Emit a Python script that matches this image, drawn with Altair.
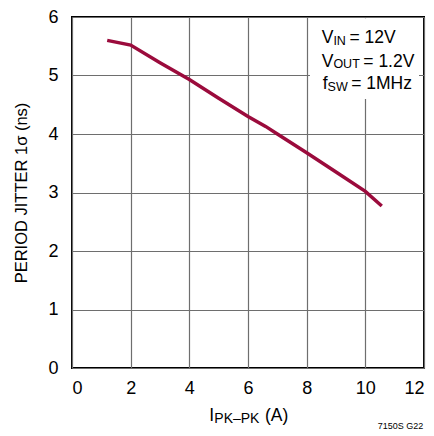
import altair as alt
import pandas as pd

# data
current_a = [1.2, 2.0, 3.0, 4.0, 5.0, 6.0, 6.6, 7.0, 8.0, 9.0, 10.0, 10.56]
jitter_ns = [5.60, 5.52, 5.22, 4.93, 4.61, 4.30, 4.13, 4.00, 3.68, 3.35, 3.02, 2.77]
x_ticks = [0, 2, 4, 6, 8, 10, 12]
y_ticks = [0, 1, 2, 3, 4, 5, 6]

df = pd.DataFrame({"i": current_a, "j": jitter_ns})
one = pd.DataFrame({"k": [0]})

FONT = "Liberation Sans, Arial, Helvetica, sans-serif"
W, H = 352, 351

x_enc = alt.X("i:Q", scale=alt.Scale(domain=[0, 12], nice=False),
              axis=alt.Axis(values=x_ticks, title=None, grid=True, ticks=False, tickSize=0,
                            domain=False, labelPadding=11, labelFontSize=18, labelFont=FONT,
                            labelColor="#000", gridColor="#6e6e6e", gridWidth=1.2))
y_enc = alt.Y("j:Q", scale=alt.Scale(domain=[0, 6], nice=False),
              axis=alt.Axis(values=y_ticks, title="PERIOD JITTER 1σ (ns)", grid=True, ticks=False,
                            tickSize=0, domain=False, labelPadding=14, labelFontSize=18,
                            labelFont=FONT, labelColor="#000", gridColor="#6e6e6e", gridWidth=1.2,
                            titleFont=FONT, titleFontSize=16.5, titleFontWeight="normal",
                            titleColor="#000", titlePadding=18))

line = alt.Chart(df).mark_line(color="#9b0b3c", strokeWidth=3.5).encode(x=x_enc, y=y_enc)

box = alt.Chart(one).mark_rect(color="white").encode(
    x=alt.value(238), x2=alt.value(347), y=alt.value(1.2), y2=alt.value(82))


def txt(s, x, y, size, align="left", weight="normal"):
    return alt.Chart(one).mark_text(text=s, align=align, baseline="alphabetic", fontSize=size,
                                    font=FONT, color="#000", fontWeight=weight).encode(
        x=alt.value(x), y=alt.value(y))


MAIN, SUB = 17.5, 12.5
labels = [
    txt("V", 249.7, 26.3, MAIN), txt("IN", 261.4, 28, SUB), txt("= 12V", 277.4, 26.3, MAIN),
    txt("V", 249.7, 49.7, MAIN), txt("OUT", 261.4, 51.3, SUB), txt("= 1.2V", 291.3, 49.7, MAIN),
    txt("f", 250.7, 72, MAIN), txt("SW", 255.6, 74, SUB), txt("= 1MHz", 279.2, 72, MAIN),
    txt("I", 137.3, 404, MAIN), txt("PK–PK", 142.3, 406.3, 14), txt("(A)", 193, 404, MAIN),
    txt("7150S G22", 351.3, 412, 9, align="right", weight=500),
]

chart = alt.layer(line, box, *labels).properties(
    width=W, height=H,
    autosize=alt.AutoSizeParams(type="none"),
    padding={"left": 64, "top": 9, "right": 2, "bottom": 64},
).configure_view(stroke="#000", strokeWidth=2)

chart.save("out.html", embed_options={"renderer": "svg", "actions": False})
